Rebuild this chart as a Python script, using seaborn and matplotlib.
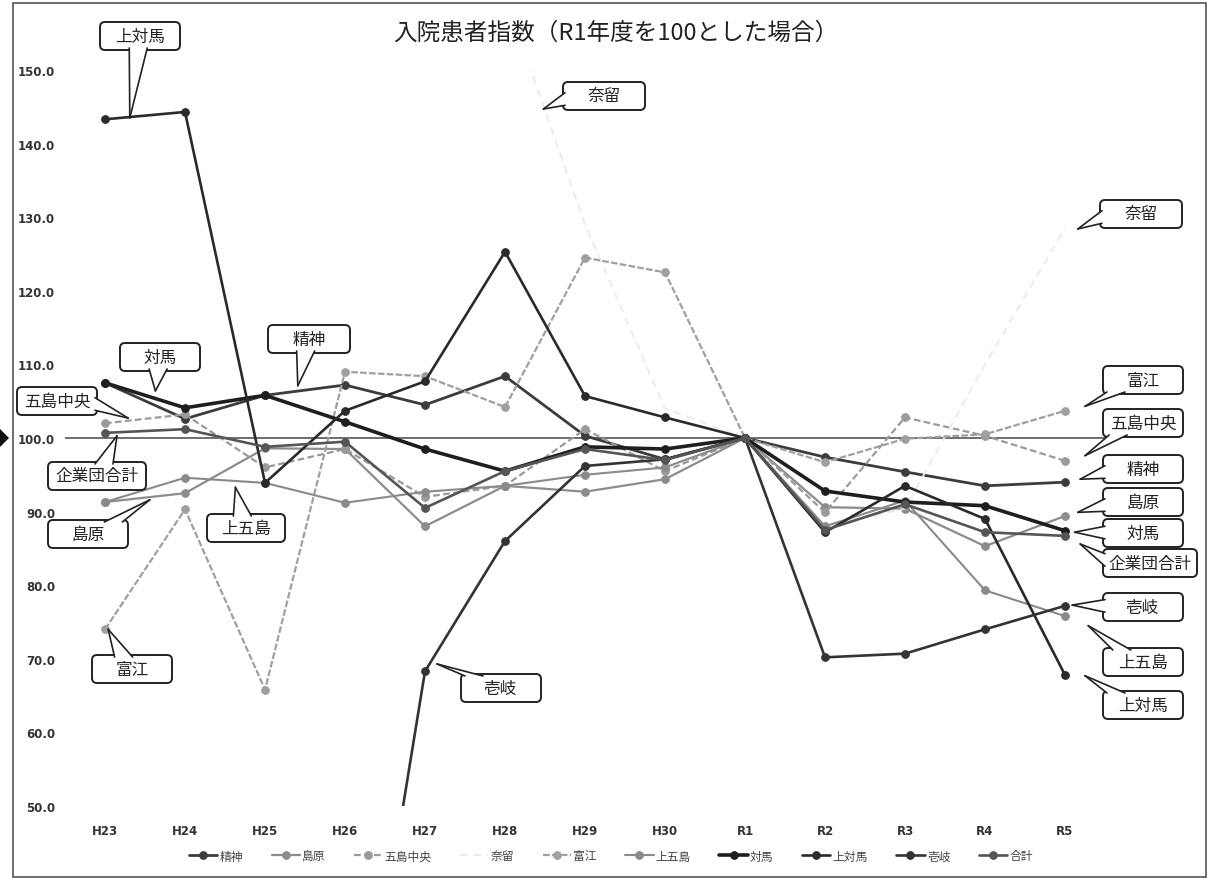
import numpy as np
import pandas as pd
import matplotlib
matplotlib.use("Agg")
import matplotlib.pyplot as plt
from matplotlib.patches import FancyBboxPatch, Polygon
from matplotlib.lines import Line2D
import seaborn as sns

sns.set_theme(style="white")
plt.rcParams["font.family"] = ["Noto Sans CJK JP", "DejaVu Sans"]

years = ["H23", "H24", "H25", "H26", "H27", "H28", "H29", "H30",
         "R1", "R2", "R3", "R4", "R5"]

seishin = [107.5, 102.6, 105.8, 107.2, 104.5, 108.4, 100.3, 97.1, 100, 97.4, 95.4, 93.5, 94.0]
shimabara = [91.3, 92.5, 98.6, 98.5, 88.0, 93.5, 92.7, 94.4, 100, 90.6, 90.4, 85.3, 89.4]
goto_chuo = [102.0, 103.2, 96.0, 98.5, 92.0, 93.5, 101.2, 95.5, 100, 89.9, 102.8, 100.3, 96.9]
naru = [np.nan, np.nan, np.nan, np.nan, np.nan, 160.0, 129.0, 104.0, 100, 88.0, 90.4, 110.0, 128.5]
tomie = [74.0, 90.3, 65.8, 109.0, 108.4, 104.2, 124.5, 122.5, 100, 96.7, 99.9, 100.5, 103.7]
kamigoto = [91.3, 94.6, 93.9, 91.2, 92.7, 93.5, 95.0, 96.0, 100, 88.0, 91.5, 79.3, 75.8]
tsushima = [107.5, 104.1, 105.8, 102.2, 98.5, 95.5, 98.8, 98.5, 100, 92.8, 91.3, 90.8, 87.4]
kamitsushima = [143.3, 144.3, 93.9, 103.7, 107.7, 125.3, 105.7, 102.8, 100, 87.2, 93.5, 89.0, 67.8]
iki = [np.nan, np.nan, np.nan, 1.5, 68.3, 86.0, 96.2, 97.1, 100, 70.2, 70.7, 74.0, 77.2]
total = [100.7, 101.2, 98.8, 99.5, 90.5, 95.5, 98.5, 97.0, 100, 87.5, 91.0, 87.2, 86.7]

names = ["精神", "島原", "五島中央", "奈留", "富江", "上五島", "対馬", "上対馬", "壱岐", "合計"]
series = [seishin, shimabara, goto_chuo, naru, tomie, kamigoto, tsushima, kamitsushima, iki, total]

styles = {
    "精神": dict(color="#3c3c3c", lw=2.0, ls="-", marker="o"),
    "島原": dict(color="#8c8c8c", lw=1.6, ls="-", marker="o"),
    "五島中央": dict(color="#9a9a9a", lw=1.6, ls=(0, (3, 1.5)), marker="o"),
    "奈留": dict(color="#ebebeb", lw=1.4, ls=(0, (4, 3)), marker=None),
    "富江": dict(color="#a0a0a0", lw=1.6, ls=(0, (3, 1)), marker="o"),
    "上五島": dict(color="#8a8a8a", lw=1.5, ls="-", marker="o"),
    "対馬": dict(color="#1e1e1e", lw=2.6, ls="-", marker="o"),
    "上対馬": dict(color="#2a2a2a", lw=1.9, ls="-", marker="o"),
    "壱岐": dict(color="#333333", lw=1.9, ls="-", marker="o"),
    "合計": dict(color="#555555", lw=1.9, ls="-", marker="o"),
}

W, H = 1210, 879
fig = plt.figure(figsize=(W / 100, H / 100), dpi=100)
fig.patch.set_facecolor("white")

# plot area in pixels: left 65, right 1105, top 71, bottom 807
ax = fig.add_axes([65 / W, (H - 807) / H, 1040 / W, 736 / H])
ax.set_facecolor("white")

xpos = np.arange(len(years))
for name, vals in zip(names, series):
    st = styles[name]
    df = pd.DataFrame({"x": xpos, "v": vals}).dropna()
    sns.lineplot(data=df, x="x", y="v", ax=ax, color=st["color"], linewidth=st["lw"],
                 linestyle=st["ls"], marker=st["marker"], markersize=5.5,
                 markeredgecolor=st["color"], markerfacecolor=st["color"],
                 label=name, sort=False, legend=False)

ax.axhline(100, color="#555555", lw=1.2, zorder=1)

ax.set_xlim(-0.5, len(years) - 0.5)
ax.set_ylim(50, 150)
ax.set_xticks(xpos)
ax.set_xticklabels(years)
ax.set_yticks(np.arange(50, 151, 10))
ax.set_yticklabels([f"{v:.1f}" for v in np.arange(50, 151, 10)])
ax.tick_params(axis="both", length=0, labelsize=8.5, colors="#333333")
for lab in ax.get_xticklabels() + ax.get_yticklabels():
    lab.set_fontweight("bold")
    lab.set_family(["DejaVu Sans"])
ax.tick_params(axis="y", pad=7)
ax.tick_params(axis="x", pad=13)
ax.set_xlabel("")
ax.set_ylabel("")
for sp in ax.spines.values():
    sp.set_visible(False)

fig.text(616 / W, 1 - 33 / H, "入院患者指数（R1年度を100とした場合）", ha="center", va="center",
         fontsize=17, color="#222222")

# legend along the bottom edge
handles, labels = ax.get_legend_handles_labels()
fig.legend(handles, labels, loc="center", bbox_to_anchor=(611 / W, 1 - 857 / H), ncol=10,
           frameon=False, fontsize=8.5, handlelength=2.4, columnspacing=2.4, handletextpad=0.2,
           labelcolor="#444444")

# callouts: (label, tip x in category units, tip value, box centre px x, box centre px y, box width px)
callouts = [
    ("上対馬", 0.31, 143.5, 140, 37, 80),
    ("奈留", 5.48, 144.7, 604, 97, 82),
    ("奈留", 12.16, 128.4, 1141, 215, 82),
    ("精神", 2.41, 107.1, 309, 340, 82),
    ("対馬", 0.63, 106.4, 160, 358, 80),
    ("五島中央", 0.29, 102.7, 57, 402, 80),
    ("企業団合計", 0.15, 100.3, 97, 477, 98),
    ("島原", 0.56, 91.6, 88, 535, 80),
    ("上五島", 1.63, 93.3, 246, 529, 78),
    ("富江", 0.04, 74.0, 132, 670, 80),
    ("壱岐", 4.15, 69.3, 501, 689, 80),
    ("富江", 12.25, 104.3, 1143, 381, 80),
    ("五島中央", 12.25, 97.6, 1143, 424, 80),
    ("精神", 12.19, 94.4, 1143, 470, 80),
    ("島原", 12.16, 89.9, 1143, 503, 80),
    ("対馬", 12.12, 87.2, 1143, 534, 80),
    ("企業団合計", 12.19, 85.6, 1150, 564, 94),
    ("壱岐", 12.09, 77.3, 1143, 608, 80),
    ("上五島", 12.29, 74.5, 1143, 663, 80),
    ("上対馬", 12.25, 67.7, 1143, 706, 80),
]

fig.canvas.draw()
to_px = ax.transData
bh = 28
half_base = 9
for text, xv, yv, bx, by, bw in callouts:
    tx, ty = to_px.transform((xv, yv))
    cx, cy = bx, H - by
    # point where the centre-to-tip ray leaves the box
    dx, dy = tx - cx, ty - cy
    sx = (bw / 2) / abs(dx) if dx != 0 else np.inf
    sy = (bh / 2) / abs(dy) if dy != 0 else np.inf
    s = min(sx, sy)
    ex, ey = cx + dx * s, cy + dy * s
    if sx < sy:
        # leaves through a vertical edge
        y0 = np.clip(ey, cy - bh / 2 + half_base + 2, cy + bh / 2 - half_base - 2)
        inset = -2 if dx > 0 else 2
        b1 = (ex + inset, y0 - half_base * 0.7)
        b2 = (ex + inset, y0 + half_base * 0.7)
    else:
        x0 = np.clip(ex, cx - bw / 2 + half_base + 4, cx + bw / 2 - half_base - 4)
        inset = -2 if dy > 0 else 2
        b1 = (x0 - half_base, ey + inset)
        b2 = (x0 + half_base, ey + inset)
    box = FancyBboxPatch((cx - bw / 2, cy - bh / 2), bw, bh,
                         boxstyle="round,pad=0,rounding_size=5", transform=None,
                         fc="white", ec="#222222", lw=1.4, zorder=20)
    fig.patches.append(box)
    wedge = Polygon([b1, (tx, ty), b2], closed=True, transform=None,
                    fc="white", ec="none", zorder=21)
    fig.patches.append(wedge)
    for b in (b1, b2):
        fig.lines.append(Line2D([b[0], tx], [b[1], ty], transform=None, color="#222222",
                                lw=1.2, zorder=22))
    fig.text(cx / W, cy / H, text, ha="center", va="center", fontsize=12, color="#222222",
             zorder=23)

# outer chart frame and side marker
frame = plt.Rectangle((13 / W, 1 - 878 / H), (1206 - 13) / W, (878 - 4) / H, transform=fig.transFigure,
                      fill=False, ec="#555555", lw=1.2)
fig.patches.append(frame)
tri = plt.Polygon([[0, 1 - 430 / H], [0, 1 - 448 / H], [9 / W, 1 - 439 / H]], closed=True,
                  transform=fig.transFigure, fc="#111111", ec="none")
fig.patches.append(tri)

fig.savefig("out.png", dpi=100, facecolor="white")
